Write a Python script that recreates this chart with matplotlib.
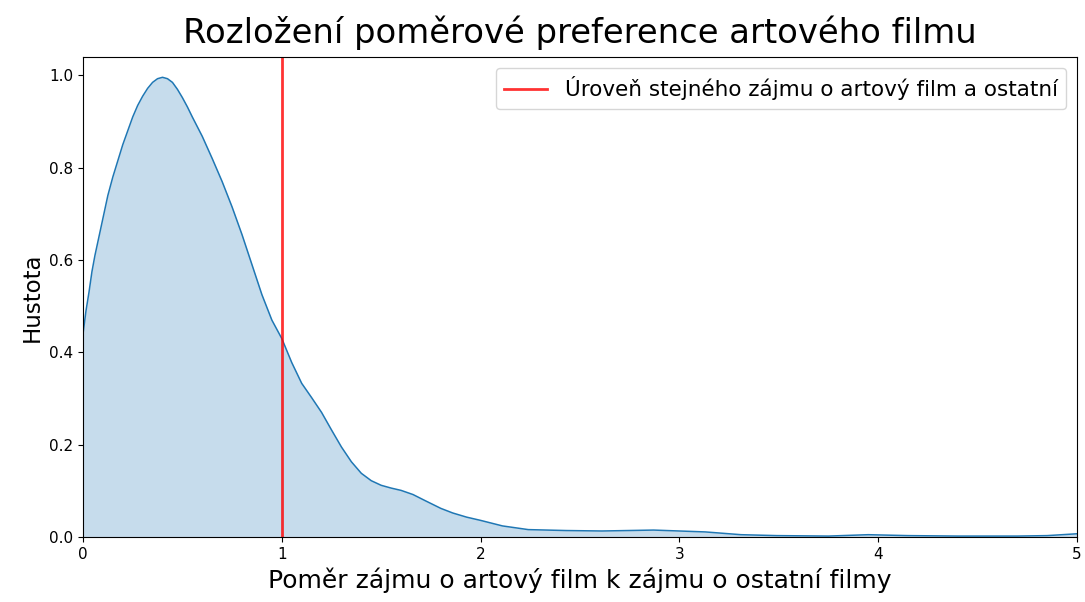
import numpy as np
from matplotlib import pyplot as plt

# density curve
ratio = [0.00, 0.015, 0.03, 0.045, 0.06, 0.08, 0.10, 0.125, 0.15, 0.175,
         0.20, 0.225, 0.25, 0.275, 0.30, 0.325, 0.35, 0.375, 0.40, 0.425,
         0.45, 0.475, 0.50, 0.525, 0.55, 0.60, 0.65, 0.70, 0.75, 0.80,
         0.85, 0.90, 0.95, 1.00, 1.05, 1.10, 1.15, 1.20, 1.25, 1.30,
         1.35, 1.40, 1.45, 1.50, 1.55, 1.60, 1.66, 1.72, 1.80, 1.86,
         1.93, 2.00, 2.11, 2.24, 2.43, 2.61, 2.87, 3.00, 3.13, 3.31,
         3.49, 3.75, 3.95, 4.15, 4.40, 4.70, 4.85, 5.00]
density = [0.44, 0.49, 0.53, 0.575, 0.61, 0.65, 0.69, 0.74, 0.78, 0.815,
           0.85, 0.88, 0.91, 0.935, 0.955, 0.972, 0.985, 0.993, 0.996, 0.993,
           0.985, 0.97, 0.952, 0.932, 0.91, 0.868, 0.82, 0.77, 0.715, 0.655,
           0.59, 0.525, 0.47, 0.43, 0.378, 0.333, 0.302, 0.27, 0.232, 0.195,
           0.163, 0.138, 0.122, 0.112, 0.106, 0.101, 0.092, 0.079, 0.062, 0.052,
           0.043, 0.036, 0.024, 0.016, 0.014, 0.013, 0.015, 0.013, 0.011, 0.005,
           0.003, 0.002, 0.005, 0.003, 0.002, 0.002, 0.003, 0.007]
equal_level = 1

fig = plt.figure(figsize=(10.85, 6.02), dpi=100)
ax = fig.add_axes([83 / 1085, 1 - 537 / 602, (1077 - 83) / 1085, (537 - 57) / 602])

ax.fill_between(ratio, density, color='#1f77b4', alpha=0.25, lw=0)
ax.plot(ratio, density, color='#1f77b4', lw=1.1)
ax.axvline(equal_level, color='red', alpha=0.8, lw=2,
           label='Úroveň stejného zájmu o artový film a ostatní')

ax.set_xlim(0, 5)
ax.set_ylim(0, 1.04)
ax.set_xticks([0, 1, 2, 3, 4, 5])
ax.set_yticks([0.0, 0.2, 0.4, 0.6, 0.8, 1.0])
ax.tick_params(labelsize=11)

ax.set_title('Rozložení poměrové preference artového filmu', fontsize=24.4, pad=10)
ax.set_xlabel('Poměr zájmu o artový film k zájmu o ostatní filmy', fontsize=18)
ax.set_ylabel('Hustota', fontsize=16.5)
ax.legend(loc='upper right', fontsize=15.5)

fig.savefig('out.png', dpi=100)
